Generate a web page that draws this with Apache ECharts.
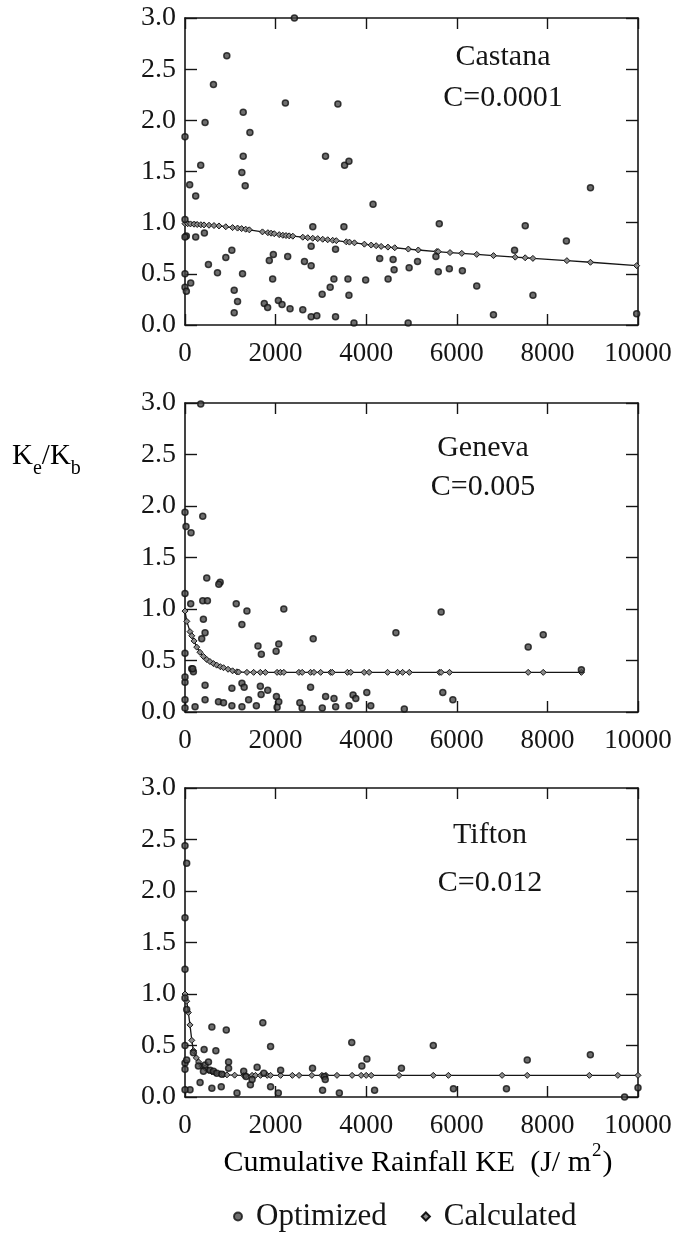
<!DOCTYPE html>
<html><head><meta charset="utf-8">
<script src="https://cdn.jsdelivr.net/npm/echarts@6/dist/echarts.min.js"></script>
<style>html,body{margin:0;padding:0;background:#fff}#c{width:686px;height:1234px}</style>
</head><body><div id="c"></div>
<script>
// ---------- DATA ----------
const xTicks = [0, 2000, 4000, 6000, 8000, 10000];
const yTicks = ['0.0','0.5','1.0','1.5','2.0','2.5','3.0'];
const panelNames = ['Castana', 'Geneva', 'Tifton'];
const panelC = ['C=0.0001', 'C=0.005', 'C=0.012'];

const castanaOptimized = [
 [0,1.84],[2415,3.0],[923,2.63],[628,2.35],[443,1.98],[347,1.56],[103,1.37],[236,1.26],
 [1285,2.08],[1433,1.88],[1285,1.65],[1255,1.49],[1329,1.36],[2216,2.17],[3375,2.16],
 [3102,1.65],[3523,1.56],[3619,1.60],[4151,1.18],[8951,1.34],[5613,0.99],[7511,0.97],
 [2821,0.96],[3508,0.96],[8419,0.82],[0,1.03],[30,0.87],[236,0.86],[428,0.90],[1034,0.73],
 [901,0.66],[517,0.59],[717,0.51],[1270,0.50],[1086,0.34],[1160,0.23],[1086,0.12],
 [1861,0.63],[1950,0.69],[2267,0.67],[1935,0.45],[1750,0.21],[1824,0.17],[2061,0.24],
 [2142,0.20],[2319,0.16],[2600,0.15],[2785,0.08],[2910,0.09],[2637,0.62],[2785,0.58],
 [2785,0.77],[3028,0.30],[3205,0.37],[3287,0.45],[3323,0.08],[3323,0.74],[3597,0.45],
 [3619,0.29],[3730,0.02],[3988,0.44],[4298,0.65],[4594,0.64],[4483,0.45],[4616,0.54],
 [4926,0.02],[4948,0.56],[5133,0.62],[5539,0.67],[5591,0.52],[5835,0.55],[6123,0.53],
 [6440,0.38],[6809,0.10],[7275,0.73],[7681,0.29],[9970,0.11],[0,0.50],[0,0.37],[30,0.33],
 [126,0.41],[0,0.86]
];
const castanaCalculated = [
 [0,0.99],[60,0.99],[120,0.988],[200,0.985],[270,0.982],[350,0.98],[420,0.978],[530,0.975],
 [640,0.972],[750,0.968],[900,0.96],[1050,0.952],[1160,0.947],[1250,0.942],[1340,0.936],
 [1420,0.93],[1710,0.91],[1830,0.902],[1900,0.897],[1970,0.892],[2080,0.883],[2160,0.877],
 [2230,0.874],[2300,0.871],[2380,0.868],[2600,0.858],[2710,0.853],[2820,0.848],[2930,0.844],
 [3040,0.838],[3150,0.833],[3260,0.828],[3340,0.824],[3560,0.813],[3630,0.81],[3740,0.803],
 [3960,0.79],[4110,0.781],[4220,0.775],[4330,0.768],[4480,0.761],[4630,0.755],[4930,0.742],
 [5150,0.733],[5560,0.718],[5590,0.717],[5850,0.708],[6110,0.70],[6440,0.69],[6810,0.678],
 [7290,0.663],[7510,0.657],[7680,0.651],[8430,0.629],[8950,0.613],[9970,0.58]
];

const genevaOptimized = [
 [347,2.99],[0,1.94],[392,1.90],[22,1.80],[133,1.74],[480,1.30],[776,1.26],[746,1.24],
 [392,1.08],[495,1.08],[1131,1.05],[1367,0.98],[2181,1.00],[5654,0.97],[1256,0.85],
 [406,0.90],[126,1.05],[0,1.15],[2830,0.71],[4656,0.77],[7908,0.75],[7576,0.63],
 [1611,0.64],[1685,0.56],[2070,0.66],[2011,0.59],[443,0.77],[369,0.71],[0,0.57],
 [148,0.42],[185,0.39],[0,0.29],[170,0.42],[443,0.26],[1035,0.23],[1257,0.28],[1306,0.24],
 [1663,0.25],[1826,0.21],[1680,0.17],[2772,0.24],[3104,0.15],[3289,0.13],[3710,0.165],
 [3770,0.13],[4013,0.19],[222,0.05],[443,0.12],[739,0.10],[850,0.09],[1035,0.06],
 [1404,0.12],[1257,0.05],[1575,0.06],[2018,0.15],[2070,0.10],[2033,0.045],[2535,0.09],
 [2586,0.04],[3030,0.04],[3326,0.05],[3621,0.06],[4101,0.06],[4841,0.03],[0,0.12],
 [0,0.04],[0,0.34],[5691,0.19],[5913,0.12],[8750,0.41]
];
const genevaCalculated = [
 [0,0.98],[40,0.88],[111,0.78],[150,0.74],[200,0.69],[259,0.63],[330,0.58],[406,0.54],
 [480,0.51],[550,0.49],[628,0.47],[700,0.455],[780,0.44],[850,0.43],[950,0.415],
 [1050,0.40],[1146,0.39],[1183,0.388],[1367,0.385],[1515,0.385],[1663,0.385],[1774,0.385],
 [2033,0.385],[2107,0.385],[2181,0.385],[2514,0.385],[2588,0.385],[2772,0.385],[2846,0.385],
 [2994,0.385],[3215,0.385],[3252,0.385],[3585,0.385],[3659,0.385],[3955,0.385],[4065,0.385],
 [4471,0.385],[4693,0.385],[4804,0.385],[4952,0.385],[5617,0.385],[5654,0.385],[5839,0.385],
 [7576,0.385],[7908,0.385],[8750,0.385]
];

const tiftonOptimized = [
 [0,2.44],[37,2.27],[0,1.74],[0,1.24],[0,0.96],[37,0.85],[593,0.68],[911,0.65],[1718,0.72],
 [1889,0.49],[3681,0.53],[4015,0.37],[3904,0.30],[5481,0.50],[7555,0.36],[8948,0.41],
 [0,0.50],[0,0.33],[185,0.43],[422,0.46],[681,0.45],[333,0.14],[111,0.07],[593,0.085],
 [800,0.10],[1148,0.04],[1444,0.12],[1889,0.10],[2060,0.04],[3037,0.065],[3407,0.04],
 [4185,0.065],[0,0.07],[296,0.30],[444,0.31],[518,0.34],[407,0.25],[555,0.26],[629,0.25],
 [703,0.23],[814,0.22],[962,0.34],[962,0.28],[1296,0.25],[1348,0.20],[1481,0.17],
 [1592,0.29],[1741,0.23],[2111,0.26],[2815,0.28],[3074,0.20],[3096,0.17],[4778,0.28],
 [0,0.27],[37,0.36],[5926,0.08],[7096,0.08],[9704,0.0],[10000,0.09]
];
const tiftonCalculated = [
 [0,1.0],[37,0.93],[74,0.82],[110,0.70],[150,0.55],[185,0.45],[250,0.38],[300,0.34],
 [370,0.30],[444,0.28],[518,0.26],[593,0.245],[667,0.235],[778,0.225],[852,0.22],
 [926,0.215],[1096,0.212],[1296,0.21],[1333,0.21],[1481,0.21],[1556,0.21],[1667,0.21],
 [1815,0.21],[1889,0.21],[2111,0.21],[2370,0.21],[2518,0.21],[2800,0.21],[3022,0.21],
 [3111,0.21],[3355,0.21],[3689,0.21],[3889,0.21],[4000,0.21],[4111,0.21],[4726,0.21],
 [5481,0.21],[5815,0.21],[7000,0.21],[7555,0.21],[8926,0.21],[9555,0.21],[10000,0.21]
];

const optimizedSets = [castanaOptimized, genevaOptimized, tiftonOptimized];
const calculatedSets = [castanaCalculated, genevaCalculated, tiftonCalculated];

// ---------- LAYOUT ----------
const FONT = '"Liberation Serif", "Times New Roman", serif';
const INK = '#151515';
const grids = [
  {left:185, right:48, top:18,  height:307},
  {left:185, right:48, top:403, height:309},
  {left:185, right:48, top:788, height:309}
];
const titlePos = [
  {x:503, y1:57,  y2:98},
  {x:483, y1:448, y2:487},
  {x:490, y1:835, y2:883}
];

const xAxes = [], yAxes = [], series = [], graphic = [];
const lineSt = {show:true, onZero:false, lineStyle:{color:INK, width:1.6}};
grids.forEach((g, i) => {
  const base = {gridIndex:i, type:'value', min:xTicks[0], max:xTicks[xTicks.length-1],
    interval:xTicks[1]-xTicks[0]};
  xAxes.push(Object.assign({}, base, {position:'bottom', axisLine:lineSt,
    axisTick:{show:true, inside:true, length:11, lineStyle:{color:INK, width:1.4}},
    axisLabel:{show:true, fontFamily:FONT, fontSize:27, color:INK, margin:15,
      formatter: v => String(v)},
    splitLine:{show:false}}));
  xAxes.push(Object.assign({}, base, {position:'top', axisLine:lineSt,
    axisTick:{show:true, inside:true, length:11, lineStyle:{color:INK, width:1.4}},
    axisLabel:{show:false}, splitLine:{show:false}}));
  const ybase = {gridIndex:i, type:'value', min:0, max:3, interval:0.5};
  yAxes.push(Object.assign({}, ybase, {position:'left', axisLine:lineSt,
    axisTick:{show:true, inside:true, length:12, lineStyle:{color:INK, width:1.4}},
    axisLabel:{show:true, fontFamily:FONT, fontSize:28, color:INK, margin:9,
      formatter: v => yTicks[Math.round(v*2)]},
    splitLine:{show:false}}));
  yAxes.push(Object.assign({}, ybase, {position:'right', axisLine:lineSt,
    axisTick:{show:true, inside:true, length:12, lineStyle:{color:INK, width:1.4}},
    axisLabel:{show:false}, splitLine:{show:false}}));

  series.push({
    name:'Calculated', type:'line', xAxisIndex:i*2, yAxisIndex:i*2,
    data: calculatedSets[i], clip:false, symbol:'diamond', symbolSize:6, showSymbol:true,
    lineStyle:{color:INK, width:1.3}, itemStyle:{color:'#8a8a8a', borderColor:INK, borderWidth:1},
    z:3, animation:false
  });
  series.push({
    name:'Optimized', type:'scatter', xAxisIndex:i*2, yAxisIndex:i*2,
    data: optimizedSets[i], clip:false, symbol:'circle', symbolSize:6,
    itemStyle:{color:'#4a4a4a', borderColor:'#111', borderWidth:1.5},
    z:4, animation:false
  });

  const t = titlePos[i];
  graphic.push({type:'text', x:t.x, y:t.y1, style:{text:panelNames[i], font:'30px '+FONT,
    fill:INK, align:'center', verticalAlign:'middle'}});
  graphic.push({type:'text', x:t.x, y:t.y2, style:{text:panelC[i], font:'30px '+FONT,
    fill:INK, align:'center', verticalAlign:'middle'}});
});

// y-axis name  K_e / K_b
graphic.push({type:'text', x:12, y:442, style:{
  text:'{k|K}{s|e}{k|/K}{s|b}',
  rich:{
    k:{fontFamily:FONT, fontSize:29, color:INK, lineHeight:32, verticalAlign:'top'},
    s:{fontFamily:FONT, fontSize:20, color:INK, lineHeight:20, padding:[17,0,0,0], verticalAlign:'top'}
  }}});
// x-axis title
graphic.push({type:'text', x:418, y:1160, style:{
  text:'{t|Cumulative Rainfall KE  (J/ m}{p|2}{t|)}',
  align:'center', verticalAlign:'middle',
  rich:{
    t:{fontFamily:FONT, fontSize:30, color:INK, lineHeight:36, padding:[6,0,0,0], verticalAlign:'top'},
    p:{fontFamily:FONT, fontSize:19, color:INK, lineHeight:36, padding:[0,1,0,1], verticalAlign:'top'}
  }}});

const chart = echarts.init(document.getElementById('c'), null, {renderer:'canvas'});
chart.setOption({
  animation:false,
  backgroundColor:'#ffffff',
  grid: grids.map(g => Object.assign({show:false, containLabel:false}, g)),
  xAxis: xAxes,
  yAxis: yAxes,
  series: series,
  legend: {
    data:[{name:'Optimized', icon:'circle'}, {name:'Calculated', icon:'diamond'}],
    left:228, top:1196, itemWidth:8, itemHeight:8, itemGap:34,
    textStyle:{fontFamily:FONT, fontSize:31, color:INK, padding:[0,0,0,9]},
    selectedMode:false
  },
  graphic: graphic
});
</script></body></html>
